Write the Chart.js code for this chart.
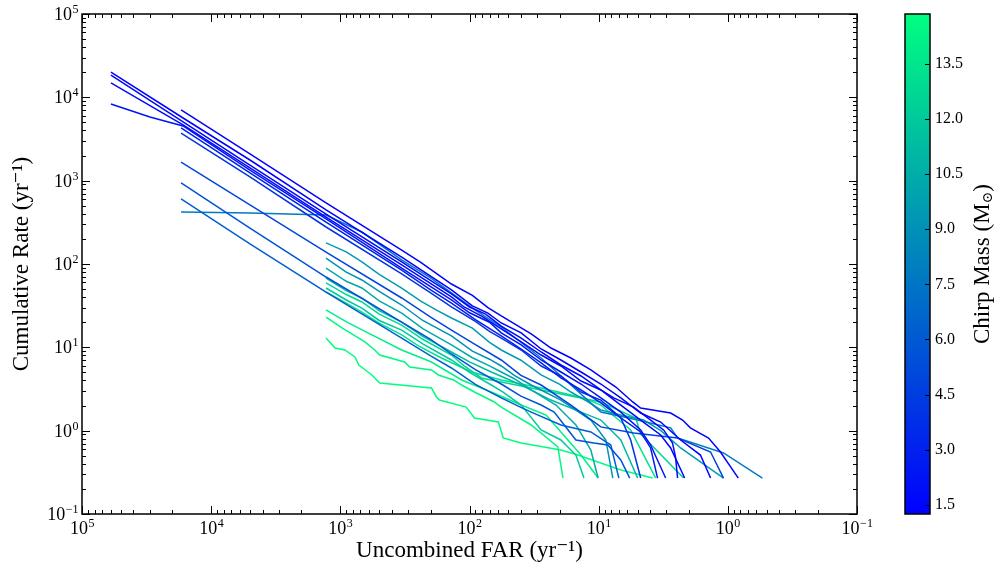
<!DOCTYPE html>
<html>
<head>
<meta charset="utf-8">
<script src="https://cdn.jsdelivr.net/npm/chart.js@4.4.0/dist/chart.umd.min.js"></script>
<style>
  html, body { margin: 0; padding: 0; background: #fff; }
  #chart { display: block; }
</style>
</head>
<body>
<canvas id="chart" width="998" height="567"></canvas>
<script>
// Cumulative rate vs uncombined FAR, one track per template bank bin ([FAR, rate] pairs, yr^-1)
const trackA1 = [[59700,20100],[16500,5650],[5010,1770],[1290,445],[335,121],[138,48.8],[95,31.5],[72,25.8],[56.8,19.6],[39.8,14.9],[27.9,9.55],[19.6,7.05],[13.7,5.06],[9.62,3.63],[6.74,2.47],[4.73,1.63],[3.31,1.27],[2.32,0.773],[1.63,0.51],[1.36,0.27]];
const trackA2 = [[59700,18500],[16500,5060],[5010,1540],[1290,398],[335,106],[138,43.7],[100,30.5],[75,25],[56.8,18.0],[39.8,12.9],[27.9,8.79],[19.6,6.14],[13.7,4.53],[9.62,3.08],[6.74,2.03],[4.73,1.34],[3.31,0.887],[2.77,0.62],[2.16,0.27]];
const trackA3 = [[59700,14900],[16500,4660],[5010,1420],[1290,366],[335,97.3],[138,40.2],[110,30.5],[80,23.5],[56.8,16.6],[39.8,11.6],[27.9,8.09],[19.6,5.97],[13.7,3.94],[9.62,3.08],[7.64,2.47],[5.36,1.92],[3.96,1.34],[3.14,1.02],[2.68,0.711],[2.54,0.483],[2.45,0.27]];
const trackA4 = [[59700,8320],[29800,5810],[16500,4530],[5010,1340],[1290,347],[335,89.5],[138,37.0],[100,26],[70,20],[56.8,14.9],[39.8,10.7],[27.9,7.05],[19.6,5.06],[13.7,3.63],[9.62,2.47],[6.74,1.67],[4.73,1.02],[3.96,0.673],[3.03,0.27]];
const trackB1 = [[17100,7050],[5010,2090],[1290,540],[335,147],[240,105],[138,57.5],[95,42],[72,30],[56.8,23.8],[33.3,14.5],[23.4,9.82],[16.4,7.45],[11.5,5.35],[9.62,4.41],[7.36,3.34],[5.45,2.21],[4.73,1.87],[2.77,1.63],[2.24,1.34],[1.95,1.08],[1.41,0.817],[1.14,0.555],[0.83,0.27]];
const trackB2 = [[17100,4290],[5010,1240],[1290,319],[335,84.7],[200,49],[138,34.0],[90,21.5],[56.8,13.7],[39.8,9.55],[27.9,6.49],[19.6,4.29],[13.7,3.08],[9.62,2.15],[6.74,1.42],[4.73,0.964],[3.96,0.62],[3.50,0.27]];
const trackB3 = [[17100,3730],[5010,1110],[1290,278],[335,75.9],[200,45],[138,30.5],[90,20.5],[70,15.5],[56.8,12.9],[39.8,9.29],[27.9,5.97],[19.6,4.53],[13.7,2.91],[9.62,2.33],[6.74,1.42],[5.65,0.773],[4.73,0.27]];
const trackB4 = [[17100,1670],[5010,511],[1290,139],[335,39.1],[200,23],[138,16.1],[90,10.8],[56.8,7.05],[40,4.6],[27.9,3.53],[16.4,2.03],[9.62,1.11],[5.36,0.938],[2.45,0.817],[1.36,0.555],[1.08,0.27]];
const trackB5 = [[17100,938],[5010,270],[1290,69.8],[335,20.1],[200,12.5],[138,8.32],[90,5.4],[56.8,3.63],[40,2.6],[27.9,2.03],[22.1,1.67],[15.0,0.773],[10.9,0.711],[8.49,0.673],[6.74,0.445],[5.75,0.27]];
const trackB6 = [[17100,603],[5010,174],[1290,46.1],[335,12.9],[200,7.9],[138,5.65],[90,3.6],[56.8,2.47],[40,1.9],[33.3,1.67],[19.6,1.17],[11.5,0.964],[8.05,0.673],[6.98,0.27]];
const trackB7 = [[17100,421],[5010,409],[1290,387],[681,242],[335,112],[200,68],[138,44.9],[90,28],[56.8,17.5],[40,11.5],[27.9,7.45],[16.4,3.53],[9.62,1.67],[4.99,1.34],[2.77,1.08],[2.45,0.817],[1.08,0.540],[0.54,0.27]];
const trackC1 = [[1290,179],[900,140],[681,106],[500,75],[335,51.5],[240,36],[180,28],[138,22.5],[95,17],[70,11.5],[56.8,9.29],[40,7.0],[27.9,4.66],[20,3.6],[16.4,2.91],[12,2.2],[9.62,1.77],[6.74,1.54],[4.48,1.34],[3.3,1.0],[2.32,0.62],[1.08,0.27]];
const trackC2 = [[1290,118],[900,80],[681,64.3],[500,47],[335,32.2],[230,21],[138,13.7],[95,9.0],[70,7.2],[56.8,5.97],[45,4.6],[33.3,3.53],[19.6,2.33],[11.5,1.34],[8.80,0.773],[7.77,0.27]];
const trackC3 = [[1290,89.5],[900,62],[681,51.5],[500,36],[335,25.8],[230,16.8],[138,10.7],[95,7.5],[70,6.0],[56.8,5.06],[45,4.2],[33.3,3.08],[21.4,2.03],[15.0,1.17],[11.5,0.586],[10.1,0.27]];
const trackC4 = [[1290,67.9],[900,48],[681,39.1],[500,27.5],[335,20.1],[230,13.5],[138,8.79],[100,6.7],[67.8,5.06],[39.8,3.53],[23.4,2.33],[13.7,1.67],[9.62,1.34],[6.74,0.773],[4.99,0.27]];
const trackC5 = [[1290,59.2],[900,43],[681,35.0],[500,25],[335,18.5],[230,12.5],[138,8.09],[110,6.0],[80.9,4.29],[39.8,3.44],[19.6,2.75],[9.62,2.21],[5.16,1.42],[4.73,0.912],[2.20,0.27]];
const trackC6 = [[1290,51.5],[900,37],[681,29.6],[500,21],[335,16.1],[230,11],[138,7.05],[100,5.0],[67.8,3.53],[55,2.9],[39.8,2.03],[27.9,1.02],[19.6,0.773],[15.0,0.51],[13.0,0.27]];
const trackC7 = [[1290,46.1],[900,34],[681,26.5],[500,19.5],[335,14.1],[250,10.5],[165,7.45],[96.6,5.06],[56.8,4.06],[27.9,3.25],[13.0,2.47],[9.62,2.03],[5.65,1.02],[3.62,0.27]];
const trackC8 = [[1290,28.1],[889,20.1],[570,14.1],[335,9.29],[197,6.67],[115,4.06],[67.8,2.91],[39.8,2.03],[25.5,1.54],[19.6,0.964],[13.7,0.51],[10.1,0.27]];
const trackC9 = [[1290,23.1],[972,17.1],[719,12.9],[646,11.6],[541,9.29],[495,8.09],[318,6.67],[290,5.81],[197,5.35],[174,4.66],[133,4.06],[115,3.53],[91.6,2.91],[64.3,2.21],[56.8,1.92],[33.3,1.17],[20.7,0.637],[18.9,0.27]];
const trackC10 = [[1290,12.9],[1100,9.82],[922,9.29],[771,7.66],[719,6.14],[570,4.66],[495,3.73],[197,3.25],[180,2.54],[171,2.33],[106,1.92],[91.6,1.42],[59.8,1.27],[54.8,0.817],[39.8,0.711],[19.6,0.586],[14.5,0.51],[6.74,0.337],[3.82,0.27]];

const tracks = [trackA1, trackA2, trackA3, trackA4, trackB1, trackB2, trackB3, trackB4, trackB5, trackB6, trackB7,
  trackC1, trackC2, trackC3, trackC4, trackC5, trackC6, trackC7, trackC8, trackC9, trackC10];
// chirp mass of each track (solar masses)
const chirpMass = [1.3, 1.6, 1.9, 2.3, 1.4, 2.8, 4.0, 5.0, 5.6, 6.3, 7.8,
  9.6, 9.0, 10.4, 11.2, 12.6, 12.0, 13.3, 14.0, 14.5, 14.85];

const xDecades = [1e5, 1e4, 1e3, 1e2, 1e1, 1e0, 1e-1];
const yDecades = [1e-1, 1e0, 1e1, 1e2, 1e3, 1e4, 1e5];
const cbTicks = [1.5, 3.0, 4.5, 6.0, 7.5, 9.0, 10.5, 12.0, 13.5];
const cbMin = 1.25;
const cbMax = 14.86;

const SERIF = '"Liberation Serif", "DejaVu Serif", serif';

// matplotlib "winter" colormap
function winter(t) {
  t = Math.max(0, Math.min(1, t));
  return `rgb(0,${Math.round(255 * t)},${Math.round(255 * (1 - 0.5 * t))})`;
}
function massColor(m) {
  return winter((m - cbMin) / (cbMax - cbMin));
}

const datasets = tracks.map((tr, i) => ({
  data: tr.map(p => ({ x: p[0], y: p[1] })),
  borderColor: massColor(chirpMass[i]),
  borderWidth: 1.5,
  pointRadius: 0,
  showLine: true,
  tension: 0,
  fill: false
}));

function drawLine(ctx, x1, y1, x2, y2) {
  ctx.beginPath();
  ctx.moveTo(x1, y1);
  ctx.lineTo(x2, y2);
  ctx.stroke();
}

// "10" with a raised exponent; align: 'center' or 'right'
function drawPow(ctx, v, x, baseY, align) {
  const e = String(Math.round(Math.log10(v))).replace('-', '\u2212');
  ctx.font = '18px ' + SERIF;
  const w1 = ctx.measureText('10').width;
  ctx.font = '12px ' + SERIF;
  const w2 = ctx.measureText(e).width;
  const start = align === 'right' ? x - w1 - w2 : x - (w1 + w2) / 2;
  ctx.textAlign = 'left';
  ctx.textBaseline = 'alphabetic';
  ctx.font = '18px ' + SERIF;
  ctx.fillText('10', start, baseY);
  ctx.font = '12px ' + SERIF;
  ctx.fillText(e, start + w1 + 0.5, baseY - 7);
}

// frame with inward major/minor ticks on all four sides, plus decade labels
const frameTicks = {
  id: 'frameTicks',
  afterDatasetsDraw(chart) {
    const { ctx, chartArea: a, scales: { x, y } } = chart;
    ctx.save();
    ctx.strokeStyle = '#000';
    ctx.lineWidth = 1;
    for (let e = -1; e <= 5; e++) {
      for (let m = 1; m <= 9; m++) {
        const v = m * Math.pow(10, e);
        const len = m === 1 ? 8 : 4;
        if (v <= 1e5 * 1.0001) {
          const px = Math.round(x.getPixelForValue(v)) + 0.5;
          drawLine(ctx, px, a.bottom, px, a.bottom - len);
          drawLine(ctx, px, a.top, px, a.top + len);
          const py = Math.round(y.getPixelForValue(v)) + 0.5;
          drawLine(ctx, a.left, py, a.left + len, py);
          drawLine(ctx, a.right, py, a.right - len, py);
        }
      }
    }
    ctx.lineWidth = 1.5;
    ctx.strokeRect(a.left, a.top, a.right - a.left, a.bottom - a.top);

    ctx.fillStyle = '#000';
    xDecades.forEach(v => drawPow(ctx, v, x.getPixelForValue(v), a.bottom + 20, 'center'));
    yDecades.forEach(v => drawPow(ctx, v, a.left - 4, y.getPixelForValue(v) + 6, 'right'));
    ctx.restore();
  }
};

// colour bar for chirp mass
const colorBar = {
  id: 'colorBar',
  afterDraw(chart) {
    const { ctx } = chart;
    const cb = chart.scales.cb;
    const left = 905, right = 930;
    const top = cb.getPixelForValue(cbMax);
    const bottom = cb.getPixelForValue(cbMin);
    ctx.save();
    const g = ctx.createLinearGradient(0, bottom, 0, top);
    g.addColorStop(0, winter(0));
    g.addColorStop(1, winter(1));
    ctx.fillStyle = g;
    ctx.fillRect(left, top, right - left, bottom - top);
    ctx.strokeStyle = '#000';
    ctx.lineWidth = 1;
    cbTicks.forEach(v => {
      const py = Math.round(cb.getPixelForValue(v)) + 0.5;
      drawLine(ctx, right, py, right - 5, py);
    });
    ctx.lineWidth = 1.5;
    ctx.strokeRect(left, top, right - left, bottom - top);

    // rotated label "Chirp Mass (M⊙)"
    ctx.translate(983, (top + bottom) / 2);
    ctx.rotate(-Math.PI / 2);
    ctx.fillStyle = '#000';
    ctx.textBaseline = 'middle';
    const p1 = 'Chirp Mass (M', p3 = ')';
    ctx.font = '14px ' + SERIF;
    const w2 = ctx.measureText('\u2299').width;
    ctx.font = '23px ' + SERIF;
    const w1 = ctx.measureText(p1).width, w3 = ctx.measureText(p3).width;
    let cx = -(w1 + w2 + w3) / 2;
    ctx.textAlign = 'left';
    ctx.fillText(p1, cx, 0);
    cx += w1;
    ctx.font = '14px ' + SERIF;
    ctx.fillText('\u2299', cx, 5);
    cx += w2;
    ctx.font = '23px ' + SERIF;
    ctx.fillText(p3, cx, 0);
    ctx.restore();
  }
};

new Chart(document.getElementById('chart'), {
  type: 'scatter',
  data: { datasets },
  options: {
    responsive: false,
    animation: false,
    layout: { padding: { top: 14, left: 0, right: 0, bottom: 0 } },
    plugins: { legend: { display: false }, tooltip: { enabled: false } },
    scales: {
      x: {
        type: 'logarithmic',
        position: 'bottom',
        reverse: true,
        min: 1e-1,
        max: 1e5,
        grid: { display: false, drawTicks: false },
        border: { display: false },
        afterBuildTicks: s => { s.ticks = xDecades.map(v => ({ value: v })); },
        afterFit: s => { s.height = 53; s.paddingLeft = 0; s.paddingRight = 0; },
        ticks: { display: false },
        title: {
          display: true, text: 'Uncombined FAR (yr\u207B\u00B9)', color: '#000',
          font: { family: SERIF, size: 23 }, padding: { top: 0, bottom: 2 }
        }
      },
      y: {
        type: 'logarithmic',
        position: 'left',
        min: 1e-1,
        max: 1e5,
        grid: { display: false, drawTicks: false },
        border: { display: false },
        afterBuildTicks: s => { s.ticks = yDecades.map(v => ({ value: v })); },
        afterFit: s => { s.width = 82; s.paddingTop = 0; s.paddingBottom = 0; },
        ticks: { display: false },
        title: {
          display: true, text: 'Cumulative Rate (yr\u207B\u00B9)', color: '#000',
          font: { family: SERIF, size: 23 }, padding: { top: 8, bottom: 0 }
        }
      },
      cb: {
        type: 'linear',
        position: 'right',
        min: cbMin,
        max: cbMax,
        grid: { display: false, drawTicks: false },
        border: { display: false },
        afterBuildTicks: s => { s.ticks = cbTicks.map(v => ({ value: v })); },
        afterFit: s => { s.width = 141; s.paddingTop = 0; s.paddingBottom = 0; },
        ticks: {
          autoSkip: false, padding: 78,
          color: '#000', font: { family: SERIF, size: 16 },
          callback: v => v.toFixed(1)
        }
      }
    }
  },
  plugins: [frameTicks, colorBar]
});
</script>
</body>
</html>
